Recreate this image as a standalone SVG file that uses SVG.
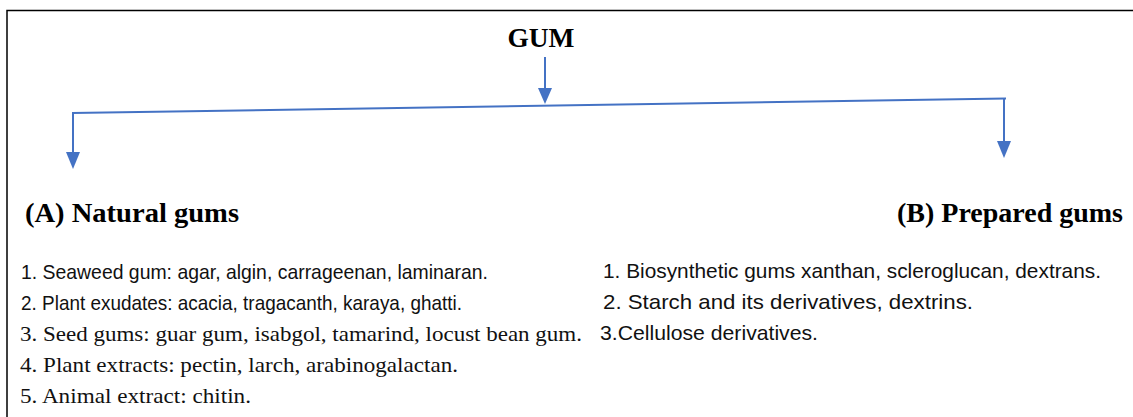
<svg xmlns="http://www.w3.org/2000/svg" width="1133" height="417" viewBox="0 0 1133 417">
<defs>
<style>
.frame{fill:none;stroke:#000;stroke-width:1.5}
.conn{fill:none;stroke:#4472c4;stroke-width:2}
.head{fill:#4472c4}
.title{font-family:"Liberation Serif","Times New Roman",serif;font-weight:bold;font-size:28px;fill:#000}
.sans{font-family:"Liberation Sans",Arial,sans-serif;font-size:21px;fill:#111}
.serif{font-family:"Liberation Serif","Times New Roman",serif;font-size:21px;fill:#111}
</style>
</defs>
<rect width="1133" height="417" fill="#fff"/>
<path class="frame" d="M7 417 V10.5 H1133"/>
<g id="connectors">
<line class="conn" x1="545" y1="57" x2="545" y2="90"/>
<polygon class="head" points="538,88 552,88 545,104"/>
<line class="conn" x1="72" y1="113" x2="1006" y2="98.5"/>
<line class="conn" x1="73" y1="113" x2="73" y2="154"/>
<polygon class="head" points="66,152 80,152 73,169"/>
<line class="conn" x1="1004" y1="98.5" x2="1004" y2="143"/>
<polygon class="head" points="997,141 1011,141 1004,158"/>
</g>
<g id="gum"><text class="title" x="541" y="47" text-anchor="middle" textLength="67" lengthAdjust="spacingAndGlyphs">GUM</text></g>
<g id="natural">
<text class="title" x="25" y="222" textLength="214" lengthAdjust="spacingAndGlyphs">(A) Natural gums</text>
<text class="sans" x="21" y="279" textLength="467" lengthAdjust="spacingAndGlyphs">1. Seaweed gum: agar, algin, carrageenan, laminaran.</text>
<text class="sans" x="21" y="310" textLength="441" lengthAdjust="spacingAndGlyphs">2. Plant exudates: acacia, tragacanth, karaya, ghatti.</text>
<text class="serif" x="20" y="341" textLength="562" lengthAdjust="spacingAndGlyphs">3. Seed gums: guar gum, isabgol, tamarind, locust bean gum.</text>
<text class="serif" x="20" y="372" textLength="438" lengthAdjust="spacingAndGlyphs">4. Plant extracts: pectin, larch, arabinogalactan.</text>
<text class="serif" x="20" y="403" textLength="231" lengthAdjust="spacingAndGlyphs">5. Animal extract: chitin.</text>
</g>
<g id="prepared">
<text class="title" x="897" y="222" textLength="226" lengthAdjust="spacingAndGlyphs">(B) Prepared gums</text>
<text class="sans" x="603" y="278" textLength="498" lengthAdjust="spacingAndGlyphs">1. Biosynthetic gums xanthan, scleroglucan, dextrans.</text>
<text class="sans" x="603" y="309" textLength="370" lengthAdjust="spacingAndGlyphs">2. Starch and its derivatives, dextrins.</text>
<text class="sans" x="600" y="340" textLength="218" lengthAdjust="spacingAndGlyphs">3.Cellulose derivatives.</text>
</g>
</svg>
